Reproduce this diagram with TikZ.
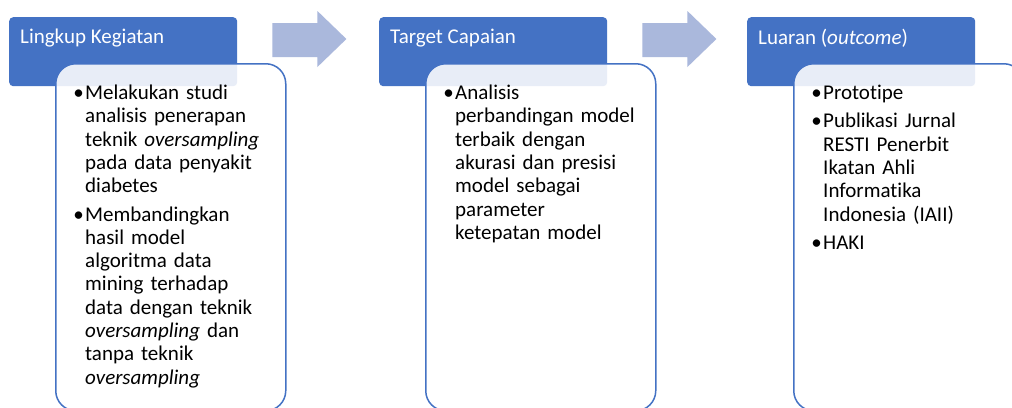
\documentclass[tikz,border=0pt]{standalone}
\usepackage{fontspec}
\setmainfont{Carlito}[Ligatures=NoCommon]
\usepackage{tikz}
\usetikzlibrary{positioning}
\definecolor{headblue}{HTML}{4472C4}
\definecolor{arrowblue}{RGB}{170,184,220}

\newenvironment{bulletlist}{%
  \raggedright
  \begin{list}{\makebox[9pt][c]{\textbullet}}{%
    \setlength{\leftmargin}{12pt}\setlength{\labelwidth}{9pt}%
    \setlength{\labelsep}{2pt}\setlength{\itemsep}{5pt}%
    \setlength{\parsep}{0pt}\setlength{\topsep}{0pt}%
    \setlength{\partopsep}{0pt}\setlength{\itemindent}{0pt}}}%
  {\end{list}}

\begin{document}
\begin{tikzpicture}[
  x=1pt, y=-1pt,
  header/.style={fill=headblue, rounded corners=4pt, minimum width=228pt, minimum height=69pt, inner sep=0pt, anchor=north west},
  title/.style={text=white, font=\fontsize{21}{24}\selectfont, anchor=west, inner sep=0pt},
  card/.style={draw=headblue, line width=1.5pt, fill=white, fill opacity=0.88, rounded corners=20pt, minimum width=230pt, minimum height=347pt, inner sep=0pt, anchor=north west},
  body/.style={text width=215pt, font=\fontsize{21}{23.3}\selectfont, anchor=north west, inner sep=0pt, align=left},
  flow/.style={fill=arrowblue}
]
  \fill[white] (0,0) rectangle (1012,407);
  \useasboundingbox (0,0) rectangle (1012,407);
  \clip (0,0) rectangle (1012,407);

  % Headers
  \node[header] (h1) at (9,17) {};
  \node[header] (h2) at (379,17) {};
  \node[header] (h3) at (747,17) {};

  \node[title] (t1) at ([xshift=11pt, yshift=-21pt]h1.north west) {Lingkup Kegiatan};
  \node[title] (t2) at ([xshift=11pt, yshift=-21pt]h2.north west) {Target Capaian};
  \node[title] (t3) at ([xshift=11pt, yshift=-21pt]h3.north west) {Luaran (\textit{outcome})};

  % Flow arrows
  \foreach \a in {h1, h2}
    \fill[flow] ([xshift=35pt, yshift=-6pt]\a.north east) -- ++(45,0) -- ++(0,-12)
      -- ++(29,28) -- ++(-29,28) -- ++(0,-10) -- ++(-45,0) -- cycle;

  % Cards
  \node[card] (c1) at (55,63) {};
  \node[card] (c2) at (425,63) {};
  \node[card] (c3) at (793,63) {};

  \node[body] (b1) at ([xshift=18pt, yshift=-13pt]c1.north west) {%
    \begin{bulletlist}
      \item Melakukan studi\newline analisis penerapan\newline teknik \textit{oversampling}\newline pada data penyakit\newline diabetes
      \item Membandingkan\newline hasil model\newline algoritma data\newline mining terhadap\newline data dengan teknik\newline \textit{oversampling} dan\newline tanpa teknik\newline \textit{oversampling}
    \end{bulletlist}};
  \node[body] (b2) at ([xshift=18pt, yshift=-13pt]c2.north west) {%
    \begin{bulletlist}
      \item Analisis\newline perbandingan model\newline terbaik dengan\newline akurasi dan presisi\newline model sebagai\newline parameter\newline ketepatan model
    \end{bulletlist}};
  \node[body] (b3) at ([xshift=18pt, yshift=-13pt]c3.north west) {%
    \begin{bulletlist}
      \item Prototipe
      \item Publikasi Jurnal\newline RESTI Penerbit\newline Ikatan Ahli\newline Informatika\newline Indonesia (IAII)
      \item HAKI
    \end{bulletlist}};
\end{tikzpicture}
\end{document}
